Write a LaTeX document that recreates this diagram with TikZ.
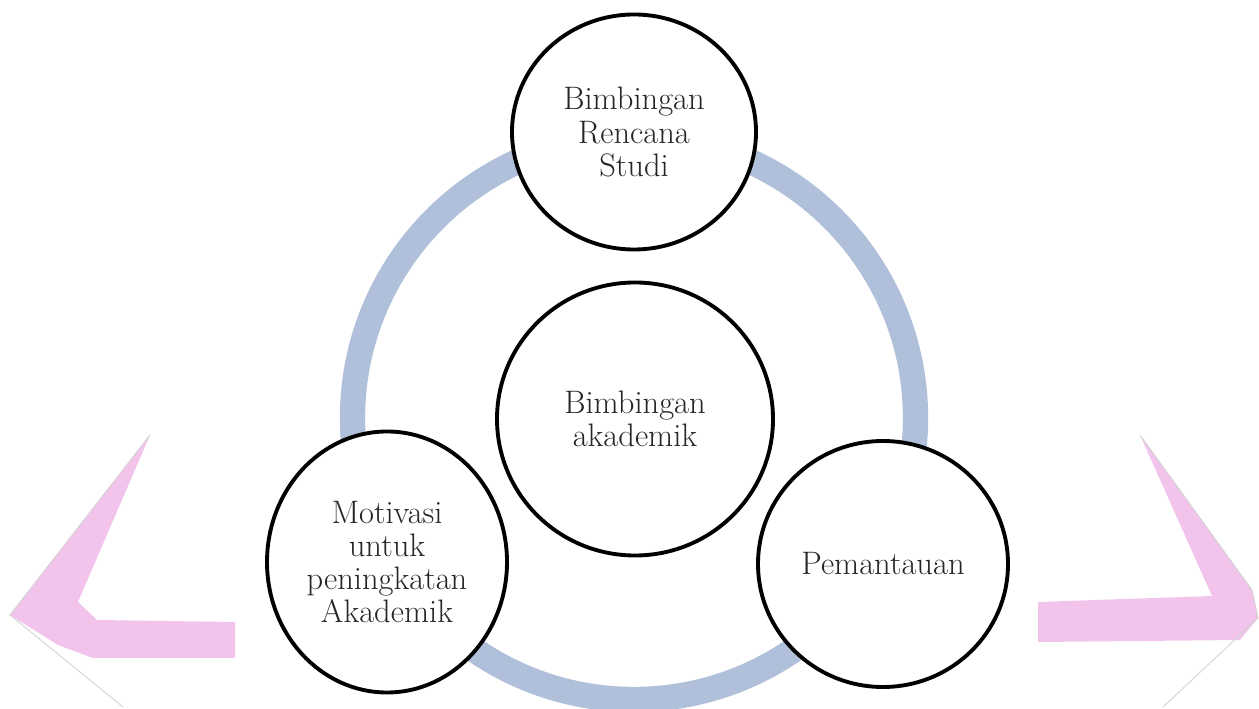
\documentclass[tikz,border=0pt]{standalone}
\usepackage{tikz}
\usetikzlibrary{positioning, shapes.geometric}

\definecolor{ringblue}{RGB}{176,192,218}
\definecolor{chevpink}{RGB}{242,196,236}

\begin{document}
\begin{tikzpicture}[
    topic/.style={ellipse, draw, fill=white, line width=2.2pt, inner sep=0pt, align=center,
        text=black!85, font=\fontsize{18.5}{18.8}\selectfont},
    ring/.style={draw=ringblue, line width=14.4pt},
    chevron/.style={fill=chevpink, draw=none},
    faint/.style={draw=gray!35, line width=0.5pt}
]
\useasboundingbox (0,0) rectangle (25.18,14.18);
\clip (0,0) rectangle (25.18,14.18);

% Pink chevrons at the sides
\fill[chevron] (3.00,5.48) -- (0.20,1.88) -- (1.16,1.28) -- (1.86,1.02) -- (4.70,1.02)
    -- (4.70,1.74) -- (1.94,1.78) -- (1.56,2.14) -- cycle;
\draw[faint] (3.00,5.48) -- (0.20,1.88) -- (2.46,0.04);

\fill[chevron] (22.80,5.48) -- (25.04,2.38) -- (25.16,1.82) -- (24.80,1.38) -- (20.76,1.34)
    -- (20.76,2.14) -- (24.24,2.26) -- cycle;
\draw[faint] (22.80,5.48) -- (25.04,2.38) -- (25.16,1.82) -- (23.26,0.04);

% Ring behind the circles
\draw[ring] (12.68,5.82) circle (5.63);

% Circles
\node[topic, minimum width=4.88cm, minimum height=4.70cm] (rencana) at (12.68,11.54)
    {Bimbingan\\Rencana\\Studi};
\node[topic, minimum width=5.52cm, minimum height=5.46cm] (akademik) at (12.70,5.80)
    {Bimbingan\\akademik};
\node[topic, minimum width=4.80cm, minimum height=5.22cm] (motivasi) at (7.74,2.94)
    {Motivasi\\untuk\\peningkatan\\Akademik};
\node[topic, minimum width=5.00cm, minimum height=4.92cm] (pemantauan) at (17.66,2.90)
    {Pemantauan};

\end{tikzpicture}
\end{document}
